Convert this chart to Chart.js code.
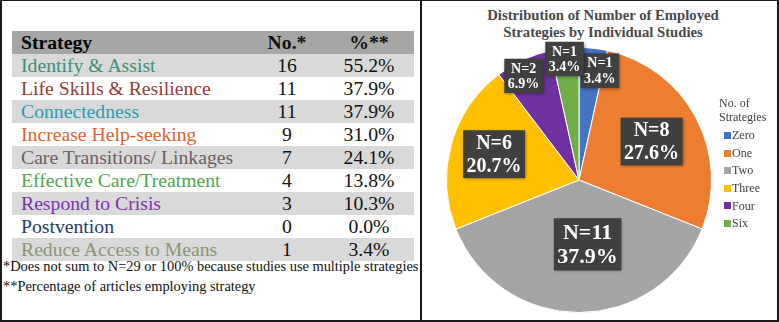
<!DOCTYPE html>
<html lang="en">
<head>
<meta charset="UTF-8">
<title>Strategies and number of employed strategies</title>
<script src="https://cdn.jsdelivr.net/npm/chart.js"></script>
<style>
  body { margin: 0; background: #fff; font-family: "Liberation Serif", "Times New Roman", serif; }
  #frame { position: relative; width: 779px; height: 322px; box-sizing: border-box;
           border: 2px solid #1a1a1a; border-top-width: 1px; overflow: hidden; }
  #divider { position: absolute; left: 418px; top: 0; width: 2px; height: 100%; background: #1a1a1a; }

  /* left panel: strategy table */
  #strategyTable { position: absolute; left: 10px; top: 30px; width: 402px; font-family: "Liberation Serif", serif;
                   border-collapse: collapse; table-layout: fixed; font-size: 19.7px; }
  #strategyTable th, #strategyTable td { padding: 0; white-space: nowrap; }
  #strategyTable thead tr { height: 23px; background: #a6a6a6; }
  #strategyTable tbody tr { height: 22.7px; }
  #strategyTable tbody tr:nth-child(odd) { background: #d9d9d9; }
  #strategyTable .name { text-align: left; padding-left: 9px; }
  #strategyTable .num { text-align: center; color: #111; }
  #strategyTable th { color: #000; }
  #notes { position: absolute; left: 1px; top: 256px; font-size: 14.4px; line-height: 19.5px; color: #111; white-space: nowrap; }

  /* right panel: pie */
  #pieTitle { position: absolute; left: 451px; top: 5.5px; width: 300px; text-align: center;
              font-weight: bold; font-size: 14.7px; line-height: 17px; color: #4a4a4a; }
  #pieCanvasBox { position: absolute; left: 420px; top: 0; width: 355px; height: 319px; }
  #pieLegend { position: absolute; left: 717px; top: 95px; font-family: "Liberation Serif", serif; font-size: 12px; color: #404040; }
  #pieLegend .ttl { line-height: 14px; }
  #pieLegend .items { margin-top: 3.2px; }
  #pieLegend .item { height: 17.6px; line-height: 17.6px; white-space: nowrap; }
  #pieLegend .sw { display: inline-block; width: 7px; height: 7px; margin-left: 5px; margin-right: 1px; vertical-align: middle; position: relative; top: -1px; }
</style>
</head>
<body>
<div id="frame">
  <table id="strategyTable">
    <colgroup><col style="width:238px"><col style="width:74px"><col style="width:90px"></colgroup>
    <thead><tr><th class="name">Strategy</th><th class="num">No.*</th><th class="num">%**</th></tr></thead>
    <tbody id="tableBody"></tbody>
  </table>
  <div id="notes">*Does not sum to N=29 or 100% because studies use multiple strategies<br>**Percentage of articles employing strategy</div>

  <div id="divider"></div>

  <div id="pieTitle">Distribution of Number of Employed<br>Strategies by Individual Studies</div>
  <div id="pieCanvasBox"><canvas id="grafico"></canvas></div>
  <div id="pieLegend">
    <div class="ttl">No. of<br>Strategies</div>
    <div class="items" id="legendItems"></div>
  </div>
</div>

<script>
  // table data
  const strategies = ['Identify & Assist', 'Life Skills & Resilience', 'Connectedness', 'Increase Help-seeking',
    'Care Transitions/ Linkages', 'Effective Care/Treatment', 'Respond to Crisis', 'Postvention', 'Reduce Access to Means'];
  const strategyNumbers = [16, 11, 11, 9, 7, 4, 3, 0, 1];
  const strategyPercents = [55.2, 37.9, 37.9, 31.0, 24.1, 13.8, 10.3, 0.0, 3.4];

  // pie data
  const strategyCounts = ['Zero', 'One', 'Two', 'Three', 'Four', 'Six'];
  const studyCounts = [1, 8, 11, 6, 2, 1];

  // colours
  const strategyColors = ['#3f8f77', '#973b34', '#2b9cb6', '#e2622d', '#6c5f63', '#4ea84b', '#7a35ad', '#1f3a6b', '#8c9579'];
  const sliceColors = ['#4472c4', '#ed7d31', '#a5a5a5', '#ffc000', '#7030a0', '#70ad47'];

  // build the table rows
  let filas = '';
  strategies.forEach((s, i) => {
    filas += `<tr><td class="name" style="color:${strategyColors[i]}">${s.replace('&', '&amp;')}</td>` +
             `<td class="num">${strategyNumbers[i]}</td><td class="num">${strategyPercents[i].toFixed(1)}%</td></tr>`;
  });
  document.getElementById('tableBody').innerHTML = filas;

  // legend
  document.getElementById('legendItems').innerHTML = strategyCounts.map((c, i) =>
    `<div class="item"><span class="sw" style="background:${sliceColors[i]}"></span>${c}</div>`).join('');

  // boxed "N=x / y%" labels on the slices
  const pieLabels = {
    id: 'pieLabels',
    afterDatasetsDraw(chart, args, opts) {
      const ctx = chart.ctx;
      const meta = chart.getDatasetMeta(0);
      const data = chart.data.datasets[0].data;
      const total = data.reduce((a, b) => a + b, 0);
      meta.data.forEach((arc, i) => {
        const p = arc.getProps(['x', 'y', 'startAngle', 'endAngle', 'outerRadius'], true);
        const ang = (p.startAngle + p.endAngle) / 2 + opts.angleShift[i] * Math.PI / 180;
        const r = p.outerRadius * opts.radial[i];
        const cx = p.x + Math.cos(ang) * r;
        const cy = p.y + Math.sin(ang) * r;
        const size = opts.fontSize[i];
        const lines = ['N=' + data[i], (data[i] / total * 100).toFixed(1) + '%'];
        ctx.save();
        ctx.font = 'bold ' + size + 'px "Liberation Serif", serif';
        const lh = size * 1.12;
        const w = Math.max(...lines.map(t => ctx.measureText(t).width)) + 7;
        const h = lh * lines.length + 3;
        ctx.shadowColor = 'rgba(0,0,0,0.45)';
        ctx.shadowBlur = 3;
        ctx.shadowOffsetX = 1;
        ctx.shadowOffsetY = 1;
        ctx.fillStyle = '#404040';
        ctx.fillRect(cx - w / 2, cy - h / 2, w, h);
        ctx.shadowColor = 'transparent';
        ctx.fillStyle = '#fff';
        ctx.textAlign = 'center';
        ctx.textBaseline = 'middle';
        lines.forEach((t, k) => ctx.fillText(t, cx, cy - h / 2 + 1.5 + lh * (k + 0.5) + 1));
        ctx.restore();
      });
    }
  };

  new Chart(document.getElementById('grafico'), {
    type: 'pie',
    data: {
      labels: strategyCounts,
      datasets: [{
        data: studyCounts,
        backgroundColor: sliceColors,
        borderColor: '#ffffff',
        borderWidth: 1
      }]
    },
    options: {
      responsive: true,
      maintainAspectRatio: false,
      animation: false,
      layout: { padding: { left: 24, right: 65, top: 46, bottom: 7 } },
      plugins: {
        legend: { display: false },
        tooltip: { enabled: false },
        pieLabels: {
          radial: [0.84, 0.62, 0.49, 0.67, 0.89, 0.92],
          angleShift: [4.6, 0, -7.6, 1.4, -3.2, -0.6],
          fontSize: [14, 20, 22, 20, 14, 14]
        }
      }
    },
    plugins: [pieLabels]
  });
</script>
</body>
</html>
